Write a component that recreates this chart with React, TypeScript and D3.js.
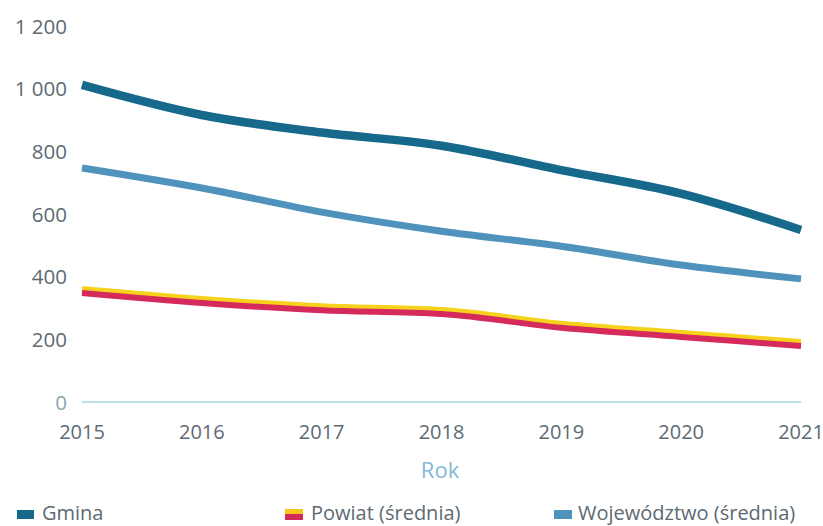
import React from "react";
import * as d3 from "d3";

const years = [2015, 2016, 2017, 2018, 2019, 2020, 2021];
const gmina = [1012, 916, 860, 818, 740, 665, 549];
const powiat = [351, 319, 296, 284, 240, 211, 182];
const wojewodztwo = [747, 683, 606, 545, 497, 437, 393];
const yTicks = [0, 200, 400, 600, 800, 1000, 1200];
const legendLabels = ["Gmina", "Powiat (średnia)", "Województwo (średnia)"];

const W = 823;
const H = 526;
const FONT = "'Open Sans', 'Noto Sans', sans-serif";

export default function App() {
  const x = d3.scaleLinear().domain([2015, 2021]).range([82, 801]);
  const y = d3.scaleLinear().domain([0, 1200]).range([402, 26]);
  const line = d3
    .line<number>()
    .x((_, i) => x(years[i]))
    .y((d) => y(d))
    .curve(d3.curveMonotoneX);
  const fmt = (v: number) => d3.format(",")(v).replace(/,/g, " ");

  return (
    <svg
      width={W}
      height={H}
      style={{ position: "absolute", left: 0, top: 0, background: "#fff" }}
      fontFamily={FONT}
    >
      {yTicks.map((t) => (
        <text
          key={t}
          x={67}
          y={y(t) + 7.5}
          textAnchor="end"
          fontSize={20.5}
          fill={t === 0 ? "#8aa7b5" : "#5d6a72"}
        >
          {fmt(t)}
        </text>
      ))}
      <line x1={x(2015)} x2={x(2021)} y1={y(0)} y2={y(0)} stroke="#a9d3e6" strokeWidth={1.5} />
      {years.map((yr) => (
        <text key={yr} x={x(yr)} y={439} textAnchor="middle" fontSize={20} fill="#5d6a72">
          {yr}
        </text>
      ))}
      <text x={440} y={478} textAnchor="middle" fontSize={22} fill="#84b8d6">
        Rok
      </text>

      <path d={line(gmina) || ""} fill="none" stroke="#17698c" strokeWidth={8.5} strokeLinecap="butt" />
      <path d={line(wojewodztwo) || ""} fill="none" stroke="#4f93bd" strokeWidth={7} strokeLinecap="butt" />
      <g>
        <path d={line(powiat) || ""} fill="none" stroke="#f7d21c" strokeWidth={7} transform="translate(0,-2.5)" />
        <path d={line(powiat) || ""} fill="none" stroke="#d42a5c" strokeWidth={6} transform="translate(0,1)" />
      </g>

      <g>
        <rect x={17} y={510} width={17} height={9} fill="#17698c" />
        <text x={42} y={520} fontSize={20} fill="#5d6a72">{legendLabels[0]}</text>
        <rect x={285} y={509} width={18} height={5} fill="#f7c51c" />
        <rect x={285} y={514} width={18} height={6} fill="#d42a5c" />
        <text x={311} y={520} fontSize={20} fill="#5d6a72">{legendLabels[1]}</text>
        <rect x={554} y={510} width={18} height={9} fill="#4f93bd" />
        <text x={578} y={520} fontSize={20} fill="#5d6a72">{legendLabels[2]}</text>
      </g>
    </svg>
  );
}
